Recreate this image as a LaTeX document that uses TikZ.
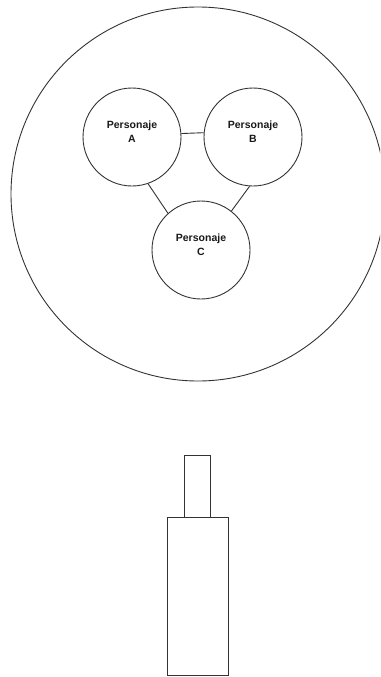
\documentclass[tikz,border=0pt]{standalone}
\usepackage{fontspec}
\setmainfont{Liberation Sans}
\begin{document}
\begin{tikzpicture}[x=1pt,y=-1pt,
  ln/.style={draw=black!80, line width=0.9pt},
  pers/.style={circle, ln, minimum size=98pt, inner sep=0pt},
  lbl/.style={font=\bfseries\fontsize{10.5}{14}\selectfont, align=center, text=black!90},
  box/.style={ln}]
\clip (0,0) rectangle (380,677);
\fill[white] (0,0) rectangle (380,677);
\node[circle, ln, minimum size=374pt, inner sep=0pt] (world) at (198,194) {};
\node[pers] (A) at (132,137) {};
\node[pers] (B) at (253,137) {};
\node[pers] (C) at (201,250) {};
\node[lbl] (tA) at (132,132) {Personaje\\A};
\node[lbl] (tB) at (253,132) {Personaje\\B};
\node[lbl] (tC) at (201,245) {Personaje\\C};
\draw[ln] (A.4.7) -- (B.175.3);
\draw[ln] (A.-71.6) -- (C.132);
\draw[ln] (B.-94.5) -- (C.52);
\draw[box] (184.5,455) rectangle (210.5,517) coordinate (neck);
\draw[box] (167.5,517) rectangle (228.5,675) coordinate (body);
\end{tikzpicture}
\end{document}
